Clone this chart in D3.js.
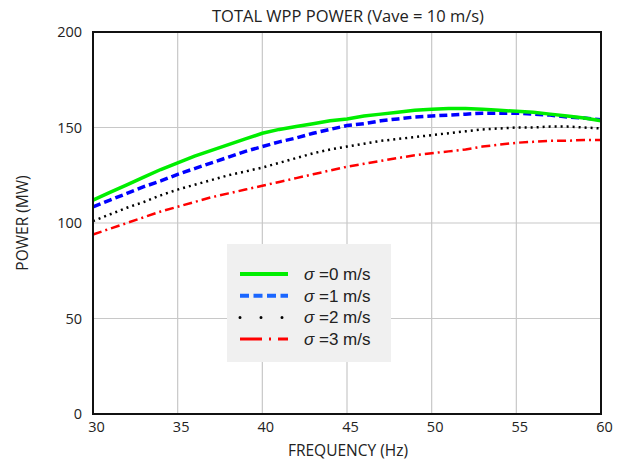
<!DOCTYPE html>
<html>
<head>
<meta charset="utf-8">
<script src="https://cdn.jsdelivr.net/npm/d3@7"></script>
<style>
  body { margin: 0; background: #fff; }
  svg { display: block; font-family: "Open Sans", "DejaVu Sans", sans-serif; }
</style>
</head>
<body>
<svg id="chart" width="624" height="462"></svg>
<script>
// frequency (Hz) and total power (MW) per sigma
var freq = [30,31,32,33,34,35,36,37,38,39,40,41,42,43,44,45,46,47,48,49,50,51,52,53,54,55,56,57,58,59,60];
var sigma0 = [112,116,120,124,128,131.5,135,138,141,144,147,149,150.5,152,153.5,154.5,156,157,158,159,159.5,160,160,159.5,159,158.5,158,157,156,155,153.5];
var sigma1 = [108.5,112,115.5,119,122,125.5,128.5,131.5,134.5,137.5,140,142.5,144.5,147,149,151,152,153.5,154.5,155.5,156,156.5,157,157.5,157.5,157.5,157,156.5,155.5,155,154];
var sigma2 = [101,104.5,108,111,114.5,117.5,120,122.5,125,127,129,131.5,134,136.5,138.5,140,141.5,143,144,145,146,147,148,149,149.5,150,150,150.5,150.5,150,149.5];
var sigma3 = [94,97,100,103,106,108.5,111,113.5,115.5,117.5,119.5,121.5,123.5,125.5,127.5,129.5,131,132.5,134,135.5,136.5,137.5,138.5,140,141,142,142.5,143,143,143.5,143.5];
var xTicks = [30,35,40,45,50,55,60];
var yTicks = [0,50,100,150,200];
var legendLabels = ["0 m/s","1 m/s","2 m/s","3 m/s"];

var series = [
	{ values: sigma0, color: "#00ee00", width: 3.5, dash: null, legendColor: "#00ee00", legendDash: null },
	{ values: sigma1, color: "#0000ff", width: 3.5, dash: "8,4", legendColor: "#1a66ff", legendDash: "9,4.5" },
	{ values: sigma2, color: "#000000", width: 2.5, dash: "2,4", legendColor: "#000000", legendDash: "3,18" },
	{ values: sigma3, color: "#ff0000", width: 2.5, dash: "9,4,2,4", legendColor: "#ff0000", legendDash: "22,7,2,7" }
];

var margin = {top: 32, right: 23, bottom: 48, left: 93};
var svg = d3.select("#chart");
var width = 624 - margin.left - margin.right,
	height = 462 - margin.top - margin.bottom;

var x = d3.scaleLinear().domain([30, 60]).range([0, width]);
var y = d3.scaleLinear().domain([0, 200]).range([height, 0]);

var g = svg.append("g").attr("transform", "translate(" + margin.left + "," + margin.top + ")");

// grid
g.append("g").selectAll("line").data(xTicks.slice(1, -1)).enter().append("line")
	.attr("x1", function(d) { return x(d); }).attr("x2", function(d) { return x(d); })
	.attr("y1", 0).attr("y2", height)
	.attr("stroke", "#c8c8c8").attr("stroke-width", 1.2);
g.append("g").selectAll("line").data(yTicks.slice(1, -1)).enter().append("line")
	.attr("x1", 0).attr("x2", width)
	.attr("y1", function(d) { return y(d); }).attr("y2", function(d) { return y(d); })
	.attr("stroke", "#c8c8c8").attr("stroke-width", 1.2);

// axes (labels only, frame drawn separately)
var xAxis = g.append("g")
	.attr("transform", "translate(0," + height + ")")
	.call(d3.axisBottom(x).tickValues(xTicks).tickSize(0).tickPadding(8));
var yAxis = g.append("g")
	.call(d3.axisLeft(y).tickValues(yTicks).tickSize(0).tickPadding(11));
[xAxis, yAxis].forEach(function(a) {
	a.select(".domain").remove();
	a.selectAll("text").attr("font-size", 14.5).attr("fill", "#222")
		.attr("font-family", "'Open Sans', sans-serif");
});
xAxis.selectAll("text").attr("dx", 3);

// curves
var line = d3.line()
	.x(function(d, i) { return x(freq[i]); })
	.y(function(d) { return y(d); });

series.slice().reverse().forEach(function(s) {
	g.append("path")
		.datum(s.values)
		.attr("d", line)
		.attr("fill", "none")
		.attr("stroke", s.color)
		.attr("stroke-width", s.width)
		.attr("stroke-dasharray", s.dash);
});

// frame
g.append("rect")
	.attr("width", width).attr("height", height)
	.attr("fill", "none").attr("stroke", "#111").attr("stroke-width", 2);

// legend
var legend = svg.append("g").attr("transform", "translate(227,244)");
legend.append("rect").attr("width", 164).attr("height", 118).attr("fill", "#f0f0f0");
var rows = legend.selectAll(".row").data(series).enter().append("g")
	.attr("transform", function(d, i) { return "translate(0," + (30 + i * 21.7) + ")"; });
rows.append("line")
	.attr("x1", 13).attr("x2", 61)
	.attr("stroke", function(d) { return d.legendColor; })
	.attr("stroke-width", function(d) { return d.width + 0.5; })
	.attr("stroke-linecap", function(d, i) { return i == 2 ? "round" : "butt"; })
	.attr("stroke-dasharray", function(d, i) { return i == 2 ? "0,21" : d.legendDash; });
var txt = rows.append("text")
	.attr("x", 77).attr("y", 6)
	.attr("font-size", 17).attr("fill", "#222")
	.attr("font-family", "'Liberation Sans', Arial, sans-serif");
txt.append("tspan").attr("font-style", "italic").text("σ");
txt.append("tspan").text(function(d, i) { return " =" + legendLabels[i]; });

// titles
svg.append("text")
	.attr("x", 348).attr("y", 22)
	.attr("text-anchor", "middle").attr("font-size", 16.5).attr("fill", "#222")
	.text("TOTAL WPP POWER (Vave = 10 m/s)");
svg.append("text")
	.attr("x", 348).attr("y", 456)
	.attr("text-anchor", "middle").attr("font-size", 15.5).attr("fill", "#222")
	.text("FREQUENCY (Hz)");
svg.append("text")
	.attr("transform", "translate(28," + (margin.top + height / 2) + ") rotate(-90)")
	.attr("text-anchor", "middle").attr("font-size", 15.5).attr("fill", "#222")
	.text("POWER (MW)");
</script>
</body>
</html>
